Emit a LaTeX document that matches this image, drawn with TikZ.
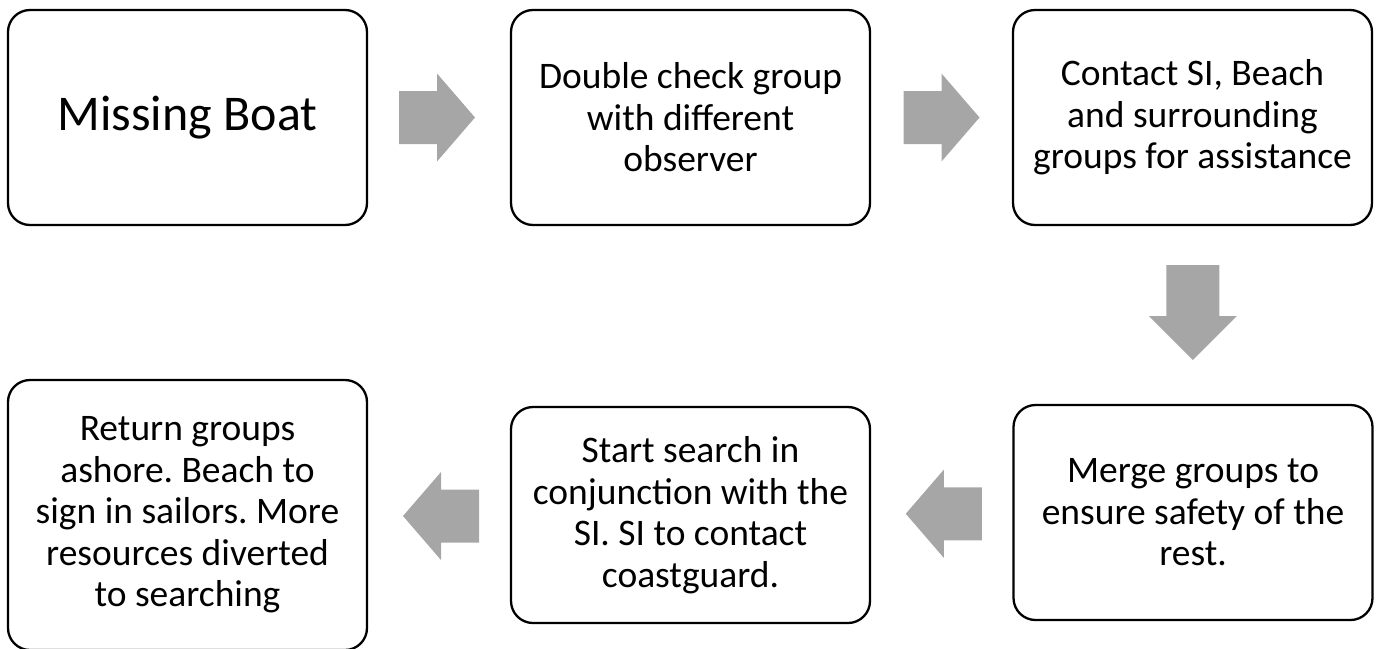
\documentclass[tikz,border=0pt]{standalone}
\usepackage{fontspec}
\setmainfont{Carlito}
\frenchspacing
\usetikzlibrary{calc}
\definecolor{arrowgray}{RGB}{166,166,166}
\tikzset{
  box/.style={draw=black, line width=2.3pt, rounded corners=22pt, fill=white,
    minimum width=359pt, minimum height=215pt, align=center, inner sep=0pt,
    font=\fontsize{37.5}{41.5}\selectfont},
  rarrow/.pic={\fill[arrowgray] (-38,-26.5) -- (0,-26.5) -- (0,-44) -- (38,0) -- (0,44) -- (0,26.5) -- (-38,26.5) -- cycle;},
  larrow/.pic={\fill[arrowgray] (38,-26.5) -- (0,-26.5) -- (0,-44) -- (-38,0) -- (0,44) -- (0,26.5) -- (38,26.5) -- cycle;},
  darrow/.pic={\fill[arrowgray] (-26.5,-50) -- (-26.5,1) -- (-44,1) -- (0,45) -- (44,1) -- (26.5,1) -- (26.5,-50) -- cycle;}
}
\begin{document}
\begin{tikzpicture}[x=1pt,y=-1pt]
\useasboundingbox (0,0) rectangle (1378,648);
\node[box, font=\fontsize{50}{60}\selectfont] (b1) at (187.5,117.5) {Missing Boat};
\node[box] (b2) at (690.5,117.5) {Double check group\\with different\\observer};
\node[box] (b3) at (1192.5,117.5) {Contact SI, Beach\\and surrounding\\groups for assistance};
\node[box] (b4) at (1193,512.5) {Merge groups to\\ensure safety of the\\rest.};
\node[box, minimum height=216pt] (b5) at (690.5,515) {Start search in\\conjunction with the\\SI. SI to contact\\coastguard.};
\node[box, minimum height=270pt] (b6) at (187.5,515) {Return groups\\ashore. Beach to\\sign in sailors. More\\resources diverted\\to searching};
\coordinate (a1) at ($(b1.east)!0.5!(b2.west)+(-2,0)$);
\coordinate (a2) at ($(b2.east)!0.5!(b3.west)$);
\coordinate (a3) at ($(b3.south)!0.5!(b4.north)$);
\coordinate (a4) at ($(b5.east)!0.5!(b4.west)+(2,0)$);
\coordinate (a5) at ($(b6.east)!0.5!(b5.west)+(2,1)$);
\pic at (a1) {rarrow};
\pic at (a2) {rarrow};
\pic at (a3) {darrow};
\pic at (a4) {larrow};
\pic at (a5) {larrow};
\end{tikzpicture}
\end{document}
